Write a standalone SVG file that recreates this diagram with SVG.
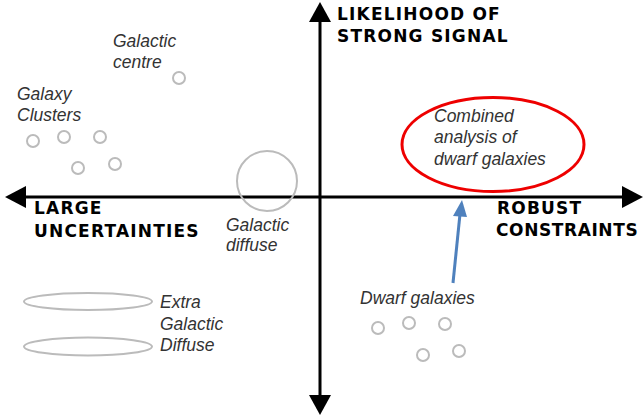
<svg xmlns="http://www.w3.org/2000/svg" width="644" height="417" viewBox="0 0 644 417">
<style>
.ax{stroke:#000;stroke-width:3;fill:none}
.hd{fill:#000}
.b{font-family:"DejaVu Sans",Verdana,sans-serif;font-weight:bold;font-size:17px;letter-spacing:1.2px;fill:#000}
.i{font-family:"Liberation Sans",Arial,sans-serif;font-style:italic;font-size:17.5px;fill:#333}
.dot{fill:none;stroke:#bbb;stroke-width:2}
</style>
<rect width="644" height="417" fill="#fff"/>
<g id="connectors">
<line class="ax" x1="320" y1="20" x2="320" y2="398"/>
<polygon class="hd" points="320,2 309,22 331,22"/>
<polygon class="hd" points="320,415 309,395 331,395"/>
<line class="ax" x1="24" y1="197" x2="624" y2="197"/>
<polygon class="hd" points="5,197 26,186 26,208"/>
<polygon class="hd" points="643,197 622,186 622,208"/>
<line x1="453" y1="283" x2="460" y2="214" stroke="#4f81bd" stroke-width="3"/>
<polygon points="462,200 453,216 467,217" fill="#4f81bd"/>
</g>
<g id="axis-labels">
<text class="b" x="337" y="20">LIKELIHOOD OF</text>
<text class="b" x="337" y="42">STRONG SIGNAL</text>
<text class="b" x="34" y="214">LARGE</text>
<text class="b" x="34" y="237">UNCERTAINTIES</text>
<text class="b" x="497" y="214">ROBUST</text>
<text class="b" x="496" y="236" style="letter-spacing:0.6px">CONSTRAINTS</text>
</g>
<g id="galactic-centre">
<text class="i" x="113" y="47">Galactic</text>
<text class="i" x="113" y="68">centre</text>
<circle class="dot" cx="179" cy="78" r="6"/>
</g>
<g id="galaxy-clusters">
<text class="i" x="17" y="100">Galaxy</text>
<text class="i" x="17" y="121">Clusters</text>
<circle class="dot" cx="33" cy="141" r="6"/>
<circle class="dot" cx="64" cy="137" r="6"/>
<circle class="dot" cx="100" cy="137" r="6"/>
<circle class="dot" cx="78" cy="168" r="6"/>
<circle class="dot" cx="115" cy="164" r="6"/>
</g>
<g id="galactic-diffuse">
<circle class="dot" cx="267" cy="181" r="30"/>
<text class="i" x="226" y="231">Galactic</text>
<text class="i" x="226" y="251">diffuse</text>
</g>
<g id="extra-galactic-diffuse">
<ellipse class="dot" cx="88" cy="301.5" rx="64" ry="8.5"/>
<ellipse class="dot" cx="88" cy="346.5" rx="64" ry="9"/>
<text class="i" x="160" y="308">Extra</text>
<text class="i" x="160" y="330">Galactic</text>
<text class="i" x="160" y="351">Diffuse</text>
</g>
<g id="combined-analysis">
<ellipse cx="493" cy="144.5" rx="91" ry="47" fill="none" stroke="#e00" stroke-width="3"/>
<text class="i" x="434" y="122">Combined</text>
<text class="i" x="434" y="143">analysis of</text>
<text class="i" x="434" y="165">dwarf galaxies</text>
</g>
<g id="dwarf-galaxies">
<text class="i" x="360" y="304">Dwarf galaxies</text>
<circle class="dot" cx="378" cy="328" r="6"/>
<circle class="dot" cx="409" cy="323" r="6"/>
<circle class="dot" cx="445" cy="324" r="6"/>
<circle class="dot" cx="423" cy="355" r="6"/>
<circle class="dot" cx="459" cy="351" r="6"/>
</g>
</svg>
